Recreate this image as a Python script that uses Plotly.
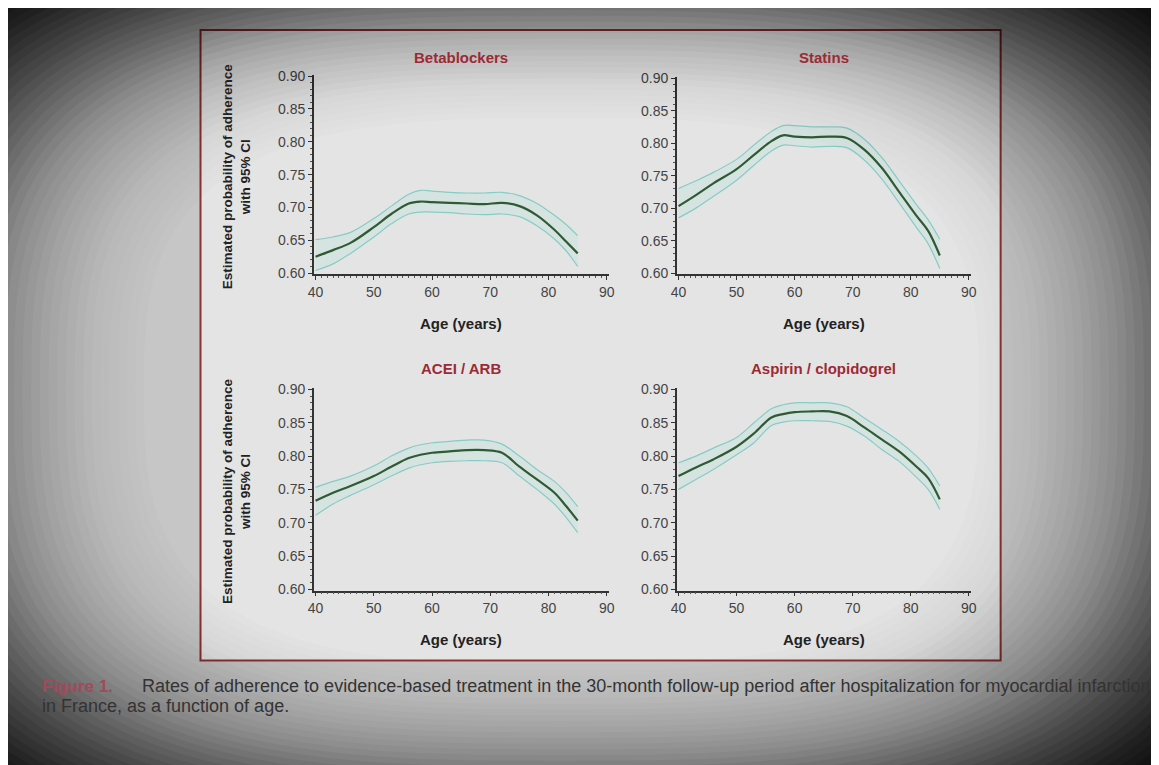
import math
import numpy as np
import plotly.graph_objects as go

ages = [40, 43, 46, 50, 53, 56, 58, 60, 63, 66, 69, 72, 75, 78, 81, 83, 85]

panel_titles = ["Betablockers", "Statins", "ACEI / ARB", "Aspirin / clopidogrel"]

beta_mid = [0.625, 0.635, 0.646, 0.670, 0.690, 0.706, 0.709, 0.708, 0.707, 0.706, 0.705, 0.707, 0.702, 0.688, 0.666, 0.648, 0.630]
beta_hi = [0.651, 0.655, 0.662, 0.683, 0.702, 0.720, 0.726, 0.725, 0.723, 0.722, 0.722, 0.723, 0.718, 0.706, 0.688, 0.674, 0.657]
beta_lo = [0.604, 0.614, 0.630, 0.655, 0.675, 0.690, 0.693, 0.693, 0.692, 0.690, 0.689, 0.690, 0.686, 0.672, 0.652, 0.634, 0.610]

stat_mid = [0.703, 0.720, 0.738, 0.760, 0.782, 0.803, 0.812, 0.810, 0.809, 0.810, 0.808, 0.790, 0.762, 0.725, 0.688, 0.665, 0.627]
stat_hi = [0.730, 0.742, 0.755, 0.775, 0.797, 0.818, 0.827, 0.827, 0.825, 0.825, 0.823, 0.806, 0.778, 0.742, 0.705, 0.682, 0.652]
stat_lo = [0.685, 0.700, 0.718, 0.743, 0.766, 0.788, 0.797, 0.796, 0.794, 0.795, 0.793, 0.774, 0.745, 0.708, 0.670, 0.645, 0.607]

acei_mid = [0.733, 0.745, 0.755, 0.770, 0.784, 0.797, 0.802, 0.805, 0.807, 0.809, 0.809, 0.805, 0.784, 0.765, 0.745, 0.725, 0.703]
acei_hi = [0.753, 0.762, 0.770, 0.785, 0.800, 0.812, 0.817, 0.820, 0.822, 0.824, 0.824, 0.818, 0.800, 0.780, 0.762, 0.745, 0.724]
acei_lo = [0.711, 0.728, 0.741, 0.757, 0.770, 0.782, 0.787, 0.790, 0.792, 0.793, 0.793, 0.790, 0.770, 0.750, 0.728, 0.708, 0.685]

asp_mid = [0.770, 0.783, 0.795, 0.814, 0.834, 0.858, 0.863, 0.866, 0.867, 0.867, 0.860, 0.843, 0.825, 0.807, 0.784, 0.767, 0.735]
asp_hi = [0.790, 0.800, 0.812, 0.828, 0.850, 0.871, 0.877, 0.880, 0.880, 0.880, 0.874, 0.857, 0.840, 0.822, 0.800, 0.782, 0.755]
asp_lo = [0.750, 0.765, 0.780, 0.802, 0.820, 0.846, 0.851, 0.853, 0.853, 0.852, 0.845, 0.830, 0.810, 0.792, 0.768, 0.750, 0.720]

x_ticks = [40, 50, 60, 70, 80, 90]
y_ticks = [0.60, 0.65, 0.70, 0.75, 0.80, 0.85, 0.90]

x_title = "Age (years)"
y_title = "Estimated probability of adherence<br>with 95% CI"
caption_label = "Figure 1."
caption_1 = "Rates of adherence to evidence-based treatment in the 30-month follow-up period after hospitalization for myocardial infarction"
caption_2 = "in France, as a function of age."

series = [
    (beta_lo, beta_mid, beta_hi),
    (stat_lo, stat_mid, stat_hi),
    (acei_lo, acei_mid, acei_hi),
    (asp_lo, asp_mid, asp_hi),
]

W, H = 1159, 765
# screen position -> paper fraction (page renders paper at ~(14,13), scale ~0.986)
SX, SY, OX, OY = 0.987, 0.984, 14, 13


def fx(px):
    return ((px - OX) / SX) / W


def fy(py):
    return 1 - ((py - OY) / SY) / H


FONT = "Liberation Sans Narrow, Liberation Sans, Arial"
# panel boxes in screen coords: (x0, x1, ytop, ybottom)
boxes = [(313, 607, 73, 273), (675, 968, 75, 273), (313, 607, 387, 590), (675, 968, 387, 590)]

fig = go.Figure()
layout = {}
annotations = []

for i, ((lo, mid, hi), (x0, x1, yt, yb)) in enumerate(zip(series, boxes)):
    n = i + 1
    xa = "x" if n == 1 else f"x{n}"
    ya = "y" if n == 1 else f"y{n}"
    fig.add_trace(go.Scatter(x=ages, y=lo, xaxis=xa, yaxis=ya, mode="lines",
                             line=dict(color="#86ccc4", width=1.2, shape="spline"), showlegend=False))
    fig.add_trace(go.Scatter(x=ages, y=hi, xaxis=xa, yaxis=ya, mode="lines", fill="tonexty",
                             fillcolor="rgba(190,230,220,0.35)",
                             line=dict(color="#86ccc4", width=1.2, shape="spline"), showlegend=False))
    fig.add_trace(go.Scatter(x=ages, y=mid, xaxis=xa, yaxis=ya, mode="lines",
                             line=dict(color="#2f5a34", width=2.2, shape="spline"), showlegend=False))
    xkey = "xaxis" if n == 1 else f"xaxis{n}"
    ykey = "yaxis" if n == 1 else f"yaxis{n}"
    layout[xkey] = dict(domain=[fx(x0), fx(x1)], anchor=ya, range=[39.7, 90.3],
                        tickvals=x_ticks, ticks="outside", ticklen=4, tickcolor="#333",
                        showline=True, linecolor="#333", linewidth=1.5, showgrid=False, zeroline=False,
                        tickfont=dict(family=FONT, size=14, color="#444"),
                        minor=dict(dtick=1, ticks="outside", ticklen=2, tickcolor="#555"))
    layout[ykey] = dict(domain=[fy(yb), fy(yt)], anchor=xa, range=[0.598, 0.902],
                        tickvals=y_ticks, tickformat=".2f", ticks="outside", ticklen=4, tickcolor="#333",
                        showline=True, linecolor="#333", linewidth=1.5, showgrid=False, zeroline=False,
                        tickfont=dict(family=FONT, size=14, color="#444"),
                        minor=dict(dtick=0.01, ticks="outside", ticklen=2, tickcolor="#555"))
    annotations.append(dict(text=f"<b>{panel_titles[i]}</b>", x=fx((x0 + x1) / 2), y=fy(56 if n <= 2 else 367),
                            xref="paper", yref="paper", showarrow=False, xanchor="center", yanchor="middle",
                            font=dict(family=FONT, size=15, color="#9c2a35")))
    annotations.append(dict(text=f"<b>{x_title}</b>", x=fx((x0 + x1) / 2), y=fy(yb + 49),
                            xref="paper", yref="paper", showarrow=False, xanchor="center", yanchor="middle",
                            font=dict(family=FONT, size=15, color="#222")))
    if n in (1, 3):
        annotations.append(dict(text=f"<b>{y_title}</b>", x=fx(236), y=fy((yt + yb) / 2 + 2),
                                xref="paper", yref="paper", showarrow=False, textangle=-90,
                                xanchor="center", yanchor="middle",
                                font=dict(family=FONT, size=13.5, color="#222")))

annotations.append(dict(text=f"<b>{caption_label}</b>", x=fx(40), y=fy(686), xref="paper", yref="paper",
                        xanchor="left", yanchor="middle", showarrow=False,
                        font=dict(family=FONT, size=17, color="#a4485a")))
annotations.append(dict(text=caption_1, x=fx(140), y=fy(686), xref="paper", yref="paper",
                        xanchor="left", yanchor="middle", showarrow=False,
                        font=dict(family=FONT, size=18, color="#333")))
annotations.append(dict(text=caption_2, x=fx(40), y=fy(706), xref="paper", yref="paper",
                        xanchor="left", yanchor="middle", showarrow=False,
                        font=dict(family=FONT, size=18, color="#333")))

shapes = [
    dict(type="rect", xref="paper", yref="paper", x0=fx(200), x1=fx(998), y0=fy(660), y1=fy(28),
         fillcolor="#e4e4e4", line=dict(color="#8a3434", width=2), layer="below"),
]

# photographic vignette: super-elliptic rings darkening toward the edges and corners
cx, cy = fx(560), fy(390)
rx, ry = fx(560 + 578) - cx, cy - fy(390 + 380)
vig_r = [0.70, 0.80, 0.88, 0.95, 1.00, 1.10, 1.20, 1.30]
vig_d = [0.00, 0.06, 0.16, 0.27, 0.38, 0.60, 0.82, 0.96]
pw = 3.0
ring_r = np.arange(0.72, 1.34, 0.015)
prev_s = 1.0
for r in ring_r:
    s = 1 - float(np.interp(r, vig_r, vig_d))
    a = 1 - s / prev_s
    prev_s = s
    if a <= 0:
        continue
    pts = []
    for k in range(96, -1, -1):
        t = 2 * math.pi * k / 96
        c, sn = math.cos(t), math.sin(t)
        pts.append((cx + r * rx * math.copysign(abs(c) ** (2 / pw), c),
                    cy + r * ry * math.copysign(abs(sn) ** (2 / pw), sn)))
    path = "M -0.1,-0.1 L 1.1,-0.1 L 1.1,1.1 L -0.1,1.1 Z M " + " L ".join(f"{px:.4f},{py:.4f}" for px, py in pts) + " Z"
    shapes.append(dict(type="path", xref="paper", yref="paper", path=path,
                       fillcolor=f"rgba(0,0,0,{a:.4f})", line=dict(width=0), layer="above"))

fig.update_layout(width=W, height=H, margin=dict(l=0, r=0, t=0, b=0),
                  paper_bgcolor="#c6c6c6", plot_bgcolor="#f2f2f2",
                  annotations=annotations, shapes=shapes, **layout)

fig.write_html("out.html")
